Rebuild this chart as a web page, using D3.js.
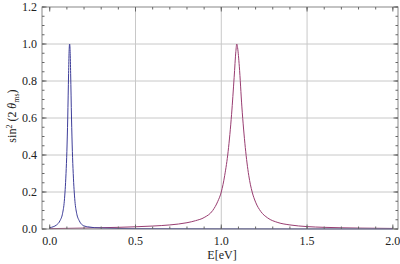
<!DOCTYPE html>
<html>
<head>
<meta charset="utf-8">
<script src="https://cdn.jsdelivr.net/npm/d3@7"></script>
<style>
  body { margin: 0; background: #fff; }
</style>
</head>
<body>
<div id="chart"></div>
<script>
// values
var blueE = [0.0, 0.02, 0.04, 0.06, 0.075, 0.085, 0.095, 0.1, 0.105, 0.11, 0.113, 0.116, 0.119, 0.122, 0.127, 0.132, 0.137, 0.147, 0.157, 0.172, 0.19, 0.22, 0.3, 0.5, 1.0, 1.5, 2.0];
var blueS = [0.007, 0.012, 0.022, 0.045, 0.085, 0.15, 0.3, 0.42, 0.6, 0.84, 0.96, 1.0, 0.96, 0.84, 0.6, 0.42, 0.3, 0.15, 0.085, 0.045, 0.022, 0.012, 0.005, 0.002, 0.001, 0.0005, 0.0003];

var purpleE = [0.0, 0.2, 0.4, 0.5, 0.6, 0.7, 0.8, 0.85, 0.9, 0.95, 0.98, 1.0, 1.02, 1.04, 1.06, 1.075, 1.085, 1.09, 1.095, 1.105, 1.12, 1.14, 1.16, 1.18, 1.2, 1.23, 1.27, 1.33, 1.4, 1.5, 1.6, 1.8, 2.0];
var purpleS = [0.002, 0.005, 0.009, 0.012, 0.016, 0.022, 0.034, 0.045, 0.062, 0.1, 0.15, 0.2, 0.29, 0.42, 0.62, 0.82, 0.96, 1.0, 0.98, 0.88, 0.66, 0.44, 0.29, 0.2, 0.145, 0.095, 0.06, 0.035, 0.022, 0.013, 0.009, 0.005, 0.003];

var xTicks = [0.0, 0.5, 1.0, 1.5, 2.0];
var yTicks = [0.0, 0.2, 0.4, 0.6, 0.8, 1.0, 1.2];

var width = 400, height = 264;
var pLeft = 42, pRight = 398, pTop = 7, pBottom = 229;
var serif = "'Liberation Serif', 'Times New Roman', serif";

var svg = d3.select("#chart").append("svg")
    .attr("width", width)
    .attr("height", height);

var x = d3.scaleLinear().domain([-0.045, 2.03]).range([pLeft, pRight]);
var y = d3.scaleLinear().domain([0, 1.2]).range([pBottom, pTop]);

var xMinor = d3.range(0, 2.01, 0.1);
var yMinor = d3.range(0, 1.201, 0.05);

// grid
svg.append("g").selectAll("line").data([0.5, 1.0, 1.5]).enter().append("line")
    .attr("x1", d => x(d)).attr("x2", d => x(d))
    .attr("y1", pTop).attr("y2", pBottom)
    .attr("stroke", "#c8c8c8").attr("stroke-width", 1);
svg.append("g").selectAll("line").data([0.2, 0.4, 0.6, 0.8, 1.0]).enter().append("line")
    .attr("x1", pLeft).attr("x2", pRight)
    .attr("y1", d => y(d)).attr("y2", d => y(d))
    .attr("stroke", "#c8c8c8").attr("stroke-width", 1);

// curves
var line = d3.line()
    .x(d => x(d[0]))
    .y(d => y(d[1]))
    .curve(d3.curveMonotoneX);

svg.append("path")
    .datum(purpleE.map((e, i) => [e, purpleS[i]]))
    .attr("d", line)
    .attr("fill", "none")
    .attr("stroke", "#993d71")
    .attr("stroke-width", 1);

svg.append("path")
    .datum(blueE.map((e, i) => [e, blueS[i]]))
    .attr("d", line)
    .attr("fill", "none")
    .attr("stroke", "#3d3d99")
    .attr("stroke-width", 1);

// frame
svg.append("rect")
    .attr("x", pLeft).attr("y", pTop)
    .attr("width", pRight - pLeft).attr("height", pBottom - pTop)
    .attr("fill", "none").attr("stroke", "#888").attr("stroke-width", 1);

// ticks on all sides
var tickColor = "#666";
function vTicks(vals, len) {
    svg.append("g").selectAll("line").data(vals).enter().append("line")
        .attr("x1", d => x(d)).attr("x2", d => x(d))
        .attr("y1", pBottom).attr("y2", pBottom - len)
        .attr("stroke", tickColor);
    svg.append("g").selectAll("line").data(vals).enter().append("line")
        .attr("x1", d => x(d)).attr("x2", d => x(d))
        .attr("y1", pTop).attr("y2", pTop + len)
        .attr("stroke", tickColor);
}
function hTicks(vals, len) {
    svg.append("g").selectAll("line").data(vals).enter().append("line")
        .attr("y1", d => y(d)).attr("y2", d => y(d))
        .attr("x1", pLeft).attr("x2", pLeft + len)
        .attr("stroke", tickColor);
    svg.append("g").selectAll("line").data(vals).enter().append("line")
        .attr("y1", d => y(d)).attr("y2", d => y(d))
        .attr("x1", pRight).attr("x2", pRight - len)
        .attr("stroke", tickColor);
}
vTicks(xMinor, 2.5);
vTicks(xTicks, 4.5);
hTicks(yMinor, 2.5);
hTicks(yTicks, 4.5);

// tick labels
svg.append("g").selectAll("text").data(xTicks).enter().append("text")
    .attr("x", d => x(d)).attr("y", 245)
    .attr("text-anchor", "middle")
    .attr("font-family", serif)
    .attr("font-size", 12).attr("fill", "#222")
    .text(d => d.toFixed(1));
svg.append("g").selectAll("text").data(yTicks).enter().append("text")
    .attr("x", 37).attr("y", d => y(d) + 4)
    .attr("text-anchor", "end")
    .attr("font-family", serif)
    .attr("font-size", 12).attr("fill", "#222")
    .text(d => d.toFixed(1));

// axis labels
svg.append("text")
    .attr("x", 222).attr("y", 259)
    .attr("text-anchor", "middle")
    .attr("font-family", serif)
    .attr("font-size", 12).attr("fill", "#222")
    .text("E[eV]");

var yl = svg.append("text")
    .attr("transform", "translate(16,116) rotate(-90)")
    .attr("text-anchor", "middle")
    .attr("font-family", serif)
    .attr("font-size", 12).attr("fill", "#222");
yl.append("tspan").text("sin");
yl.append("tspan").attr("font-size", 8).attr("dy", -4).text("2");
yl.append("tspan").attr("dy", 4).text(" (2 ");
yl.append("tspan").attr("font-style", "italic").text("θ");
yl.append("tspan").attr("font-size", 8).attr("dy", 2.5).text("ms");
yl.append("tspan").attr("dy", -2.5).text(")");
</script>
</body>
</html>
